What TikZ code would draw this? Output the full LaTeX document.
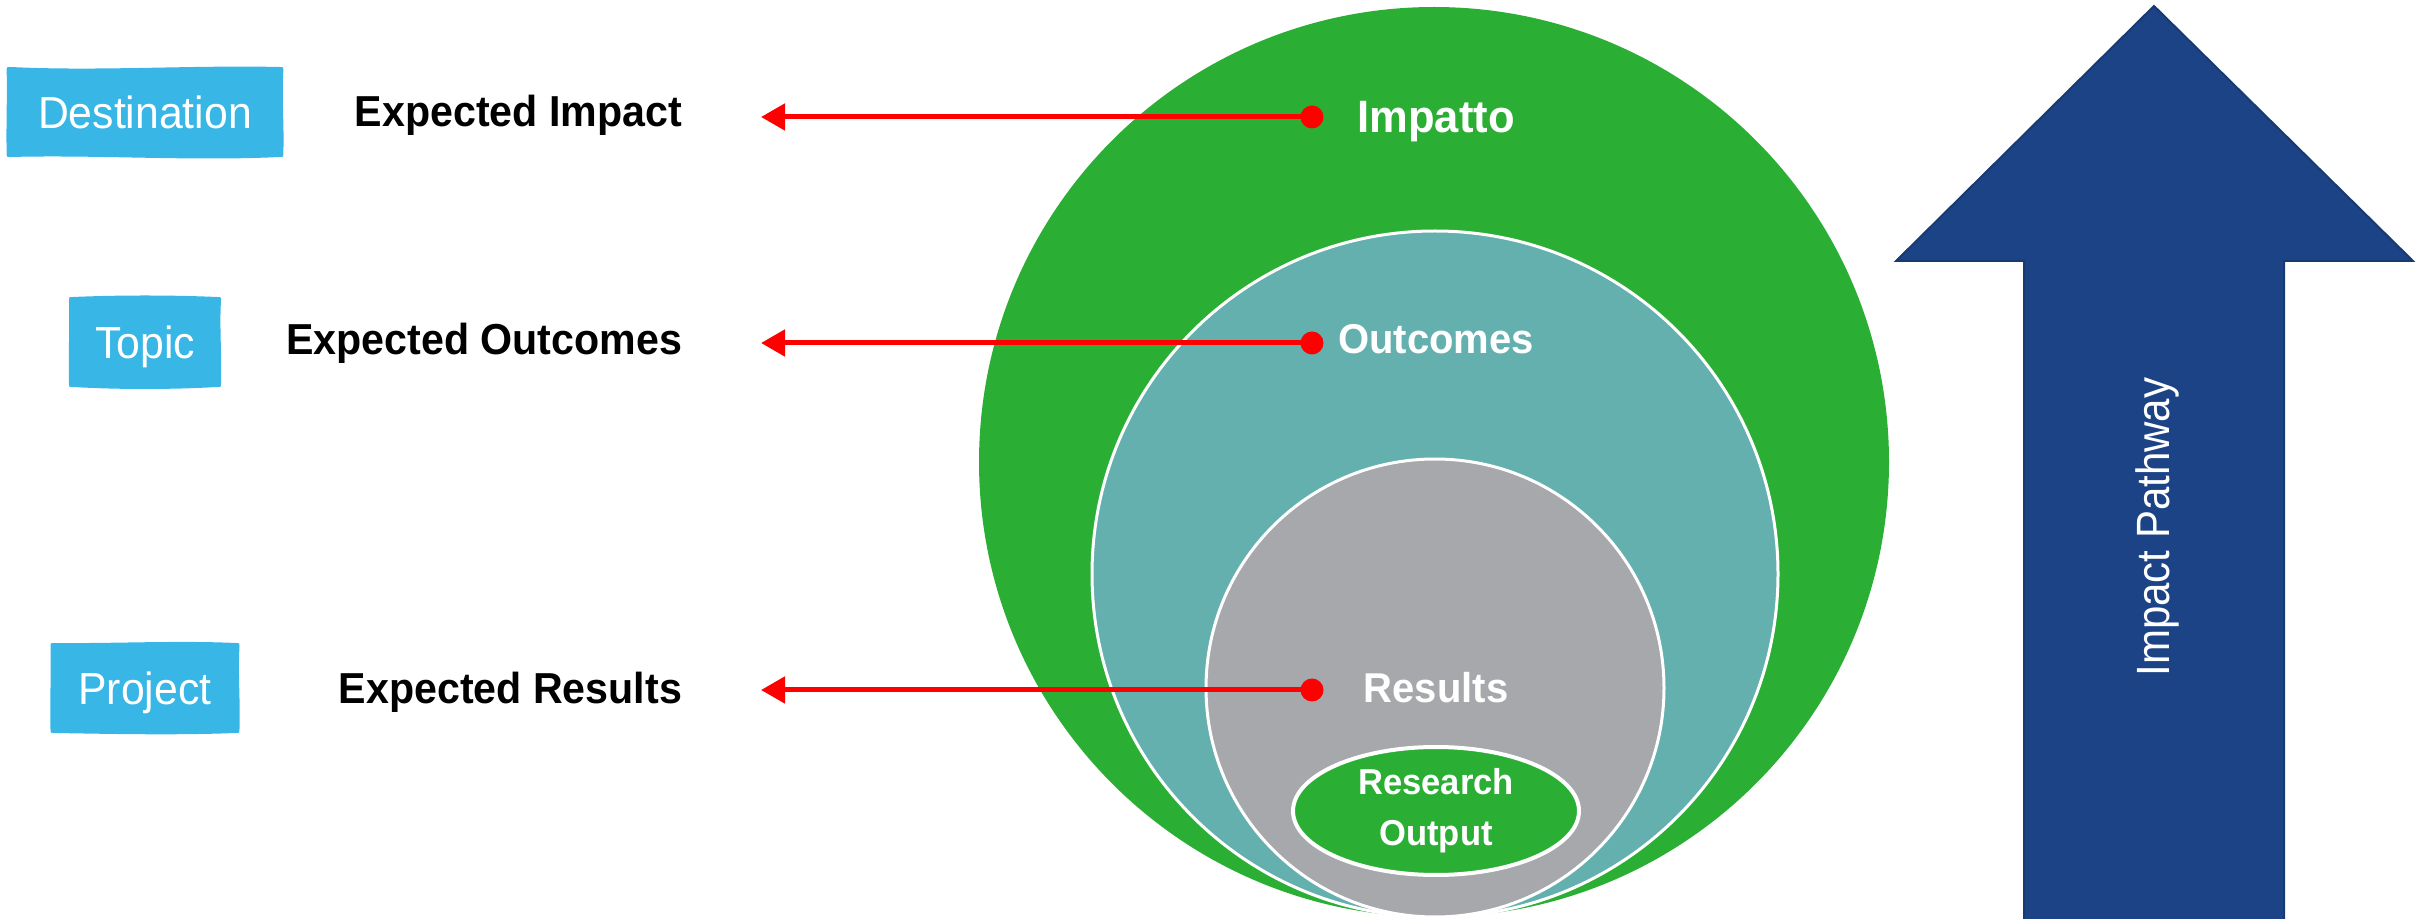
\documentclass[tikz,border=0pt]{standalone}
\usepackage{fontspec}
\setmainfont{Liberation Sans}
\newfontfamily\labelfont[FakeStretch=0.95]{Liberation Sans}
\newfontfamily\ringfont[FakeStretch=0.96]{Liberation Sans}
\newfontfamily\pathfont[FakeStretch=0.9]{Liberation Sans}
\usetikzlibrary{arrows.meta,calc,backgrounds,shapes.geometric}
\definecolor{ringgreen}{HTML}{2AAF34}
\definecolor{ringteal}{HTML}{64B0AE}
\definecolor{ringgray}{HTML}{A7A8AC}
\definecolor{tagfill}{HTML}{38B6E6}
\definecolor{pathblue}{HTML}{1B4386}
\definecolor{pathedge}{HTML}{183A73}
\definecolor{arrowred}{HTML}{FF0000}
% #1 node name, #2/#3 top wave offsets (at 1/3, 2/3 from left, up positive),
% #4/#5 bottom wave offsets (at 1/3, 2/3 from left, up positive)
\newcommand\wavytag[5]{%
  \fill[tagfill]
    ($(#1.north west)+(1.2pt,0)$)
    .. controls ($(#1.north west)!0.33!(#1.north east)+(0,#2)$) and ($(#1.north west)!0.67!(#1.north east)+(0,#3)$) .. ($(#1.north east)+(-1.2pt,0)$)
    .. controls (#1.north east) .. ($(#1.north east)+(0,-1.2pt)$)
    .. controls ($(#1.north east)!0.33!(#1.south east)+(-0.5pt,0)$) and ($(#1.north east)!0.67!(#1.south east)+(0.3pt,0)$) .. ($(#1.south east)+(0,1.2pt)$)
    .. controls (#1.south east) .. ($(#1.south east)+(-1.2pt,0)$)
    .. controls ($(#1.south east)!0.33!(#1.south west)+(0,#5)$) and ($(#1.south east)!0.67!(#1.south west)+(0,#4)$) .. ($(#1.south west)+(1.2pt,0)$)
    .. controls (#1.south west) .. ($(#1.south west)+(0,1.2pt)$)
    .. controls ($(#1.south west)!0.33!(#1.north west)+(-0.2pt,0)$) and ($(#1.south west)!0.67!(#1.north west)+(0.2pt,0)$) .. ($(#1.north west)+(0,-1.2pt)$)
    .. controls (#1.north west) .. cycle;}
\begin{document}
\begin{tikzpicture}[x=0.3pt,y=-0.3pt,
  every node/.style={inner sep=0pt,outer sep=0pt},
  disc/.style={circle,minimum size=#1},
  tagbox/.style={text=white,font=\labelfont\fontsize{13.5}{16}\selectfont,text height=9.7pt,text depth=0pt},
  explabel/.style={anchor=east,font=\labelfont\bfseries\fontsize{13}{15}\selectfont,text height=9.3pt,text depth=0pt},
  ringlabel/.style={text=white,font=\ringfont\bfseries\fontsize{12.5}{14}\selectfont,text height=9pt,text depth=0pt},
  reddot/.style={circle,fill=arrowred,minimum size=6.9pt},
  pointer/.style={draw=arrowred,line width=1.5pt,-{Triangle[length=7.2pt,width=7.8pt]}},
]
\useasboundingbox (0,0) rectangle (2425,919);
\clip (0,0) rectangle (2425,919);

% nested circles
\node[disc=273pt,fill=ringgreen] (impact) at (1434,462) {};
\node[disc=205.8pt,fill=ringteal,draw=white,line width=0.9pt] (outcomes) at (1435,574) {};
\node[disc=137.4pt,fill=ringgray,draw=white,line width=0.9pt] (results) at (1435,688) {};
\node[ellipse,minimum width=85.8pt,minimum height=38.4pt,fill=ringgreen,draw=white,line width=1.2pt,
      text=white,align=center,font=\ringfont\bfseries\fontsize{10.8}{15.3}\selectfont] (output) at (1436,811) {Research\\Output};

\node[ringlabel,font=\ringfont\bfseries\fontsize{13.6}{15}\selectfont,text height=9.7pt] (impactlbl) at (1436,116) {Impatto};
\node[ringlabel] (outcomeslbl) at (1436,339) {Outcomes};
\node[ringlabel] (resultslbl) at (1436,688) {Results};

% left tags
\node[tagbox,minimum width=83pt,minimum height=27pt] (dest) at (145,112) {Destination};
\node[tagbox,minimum width=45.6pt,minimum height=27pt] (topic) at (145,342) {Topic};
\node[tagbox,minimum width=56.7pt,minimum height=27pt] (project) at (145,688) {Project};
\begin{pgfonlayer}{background}
\wavytag{dest}{-1.3pt}{0.6pt}{0.7pt}{-1.3pt}
\wavytag{topic}{0.6pt}{0.6pt}{-0.8pt}{-0.8pt}
\wavytag{project}{-0.2pt}{0.8pt}{-0.3pt}{-0.7pt}
\end{pgfonlayer}

% expected labels
\node[explabel] (e1) at (682,111) {Expected Impact};
\node[explabel] (e2) at (682,339) {Expected Outcomes};
\node[explabel] (e3) at (682,688) {Expected Results};

% red pointers
\node[reddot] (d1) at (1312,117) {};
\node[reddot] (d2) at (1312,343) {};
\node[reddot] (d3) at (1312,690) {};
\coordinate (t1) at (761,117);
\coordinate (t2) at (761,343);
\coordinate (t3) at (761,690);
\draw[pointer] (d1.center) -- (t1);
\draw[pointer] (d2.center) -- (t2);
\draw[pointer] (d3.center) -- (t3);

% impact pathway arrow
\filldraw[fill=pathblue,draw=pathedge,line width=0.6pt]
  (2154,6) -- (2413,261) -- (2284,261) -- (2284,940) -- (2024,940) -- (2024,261) -- (1896,261) -- cycle;
\node[rotate=90,text=white,font=\pathfont\fontsize{14}{16}\selectfont,text height=10pt,text depth=0pt] (pathway) at (2153,527) {Impact Pathway};
\end{tikzpicture}
\end{document}
